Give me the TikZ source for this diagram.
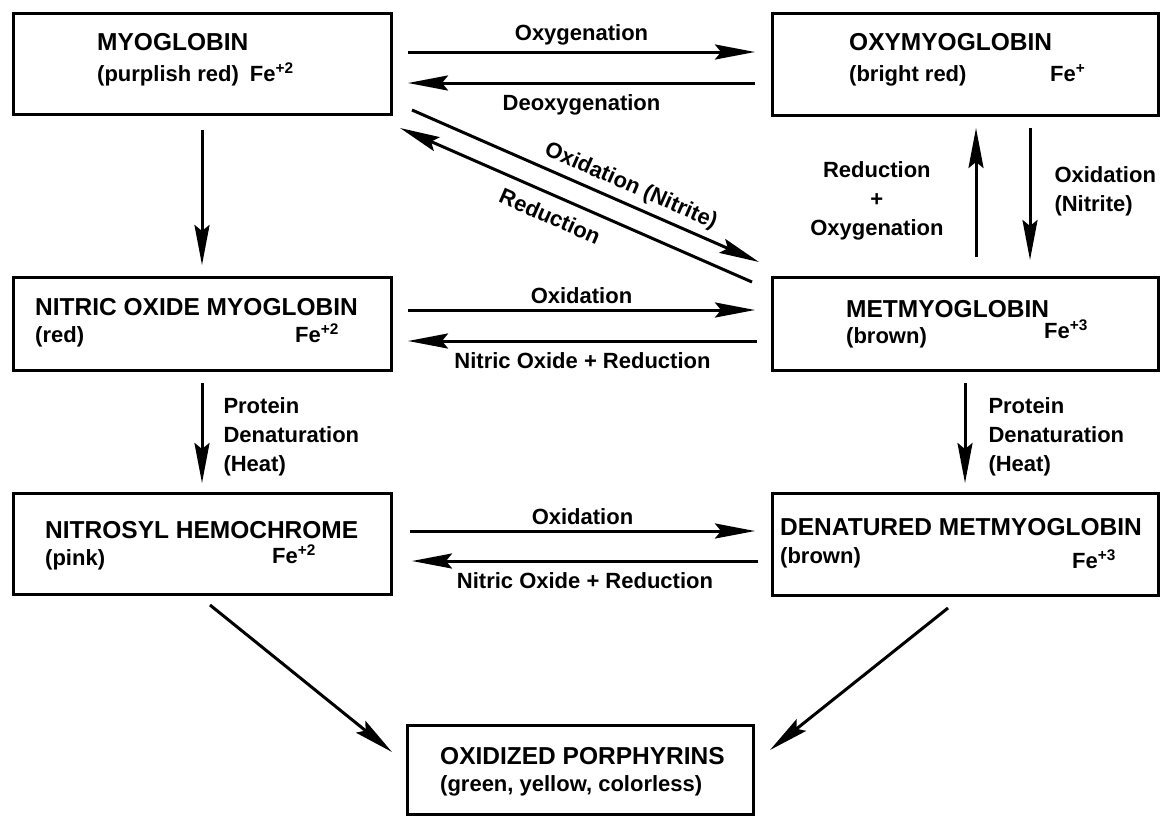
\documentclass[tikz,border=0pt]{standalone}
\usepackage{fontspec}
\setmainfont{Liberation Sans}
\usetikzlibrary{arrows.meta,positioning}

\begin{document}
\begin{tikzpicture}[
    x=1pt, y=-1pt,
    state box/.style={
        draw=black,
        line width=3pt,
        rectangle,
        outer sep=0pt,
        inner sep=0pt
    },
    state title/.style={
        font=\fontsize{24.5}{29}\selectfont\bfseries,
        anchor=base west,
        inner sep=0pt
    },
    state sub/.style={
        font=\fontsize{22}{29}\selectfont\bfseries,
        anchor=base west,
        inner sep=0pt
    },
    step label/.style={
        font=\fontsize{22}{29}\selectfont\bfseries,
        inner sep=2pt
    },
    arrow/.style={-{Stealth[length=40pt,width=15pt,inset=6pt]}, line width=3pt}
]

\useasboundingbox (0,0) rectangle (1161,817);

% Myoglobin
\node[state box, minimum width=378pt, minimum height=101pt] (myo) at (202,63.5) {};
\node[state title] (myo-name) at ([xshift=84pt,yshift=-37pt]myo.north west) {MYOGLOBIN};
\node[state sub] (myo-col) at ([xshift=84pt,yshift=-68pt]myo.north west) {(purplish red)\enspace Fe\textsuperscript{+2}};

% Oxymyoglobin
\node[state box, minimum width=386pt, minimum height=102pt] (oxy) at (965,64) {};
\node[state title] (oxy-name) at ([xshift=77pt,yshift=-37pt]oxy.north west) {OXYMYOGLOBIN};
\node[state sub] (oxy-col) at ([xshift=77pt,yshift=-68pt]oxy.north west) {(bright red)};
\node[state sub] (oxy-fe) at ([xshift=278pt,yshift=-68pt]oxy.north west) {Fe\textsuperscript{+}};

% Nitric oxide myoglobin
\node[state box, minimum width=378pt, minimum height=93pt] (nomb) at (202,323.5) {};
\node[state title] (nomb-name) at ([xshift=22pt,yshift=-38pt]nomb.north west) {NITRIC OXIDE MYOGLOBIN};
\node[state sub] (nomb-col) at ([xshift=22pt,yshift=-65pt]nomb.north west) {(red)};
\node[state sub] (nomb-fe) at ([xshift=282pt,yshift=-65pt]nomb.north west) {Fe\textsuperscript{+2}};

% Metmyoglobin
\node[state box, minimum width=386pt, minimum height=93pt] (met) at (965,323.5) {};
\node[state title] (met-name) at ([xshift=74pt,yshift=-40pt]met.north west) {METMYOGLOBIN};
\node[state sub] (met-col) at ([xshift=74pt,yshift=-66pt]met.north west) {(brown)};
\node[state sub] (met-fe) at ([xshift=272pt,yshift=-61pt]met.north west) {Fe\textsuperscript{+3}};

% Nitrosyl hemochrome
\node[state box, minimum width=378pt, minimum height=101pt] (nhc) at (202,543.5) {};
\node[state title] (nhc-name) at ([xshift=32pt,yshift=-45pt]nhc.north west) {NITROSYL HEMOCHROME};
\node[state sub] (nhc-col) at ([xshift=32pt,yshift=-72pt]nhc.north west) {(pink)};
\node[state sub] (nhc-fe) at ([xshift=259pt,yshift=-70pt]nhc.north west) {Fe\textsuperscript{+2}};

% Denatured metmyoglobin
\node[state box, minimum width=386pt, minimum height=102pt] (dmet) at (965,544) {};
\node[state title] (dmet-name) at ([xshift=8pt,yshift=-42pt]dmet.north west) {DENATURED METMYOGLOBIN};
\node[state sub] (dmet-col) at ([xshift=8pt,yshift=-70pt]dmet.north west) {(brown)};
\node[state sub] (dmet-fe) at ([xshift=300pt,yshift=-75pt]dmet.north west) {Fe\textsuperscript{+3}};

% Oxidized porphyrins
\node[state box, minimum width=346pt, minimum height=89pt] (porph) at (580,770) {};
\node[state title] (porph-name) at ([xshift=33pt,yshift=-39pt]porph.north west) {OXIDIZED PORPHYRINS};
\node[state sub] (porph-col) at ([xshift=33pt,yshift=-66pt]porph.north west) {(green, yellow, colorless)};

% Top row
\draw[arrow] ([xshift=17pt,yshift=11.5pt]myo.east) -- node[step label, above=3pt] (l-oxygen) {Oxygenation} ([xshift=-17pt,yshift=12pt]oxy.west);
\draw[arrow] ([xshift=-17pt,yshift=-19pt]oxy.west) -- node[step label, below=8pt] (l-deoxy) {Deoxygenation} ([xshift=17pt,yshift=-19.5pt]myo.east);

% Diagonal pair
\draw[arrow] ([xshift=21pt,yshift=4pt]myo.south east) -- node[step label, sloped, above=4pt, pos=0.61] (l-nitrite) {Oxidation (Nitrite)} ([xshift=-13pt,yshift=15pt]met.north west);
\draw[arrow] ([xshift=-20pt,yshift=-5pt]met.north west) -- node[step label, sloped, below=9pt, pos=0.55] (l-reduct) {Reduction} ([xshift=9pt,yshift=-14pt]myo.south east);

% Oxymyoglobin <-> metmyoglobin
\draw[arrow] ([xshift=11pt,yshift=20pt]met.north) -- node[step label, left=29pt, yshift=-8pt, align=center] (l-reox) {Reduction\\+\\Oxygenation} ([xshift=11pt,yshift=-13pt]oxy.south);
\draw[arrow] ([xshift=65pt,yshift=-13pt]oxy.south) -- node[step label, right=21pt, yshift=3pt, align=left] (l-oxnit) {Oxidation\\(Nitrite)} ([xshift=65pt,yshift=17pt]met.north);

% Left column down
\draw[arrow] ([yshift=-16pt]myo.south) -- ([yshift=12pt]nomb.north);

% Middle row
\draw[arrow] ([xshift=17pt,yshift=13.5pt]nomb.east) -- node[step label, above=3pt] (l-ox2) {Oxidation} ([xshift=-17pt,yshift=13.5pt]met.west);
\draw[arrow] ([xshift=-15pt,yshift=-17.5pt]met.west) -- node[step label, below=8pt] (l-nored2) {Nitric Oxide + Reduction} ([xshift=17pt,yshift=-17.5pt]nomb.east);

% Denaturation
\draw[arrow] ([yshift=-13pt]nomb.south) -- node[step label, right=18pt, yshift=-4pt, align=left] (l-den1) {Protein\\Denaturation\\(Heat)} ([yshift=10pt]nhc.north);
\draw[arrow] ([yshift=-13pt]met.south) -- node[step label, right=20pt, yshift=-4pt, align=left] (l-den2) {Protein\\Denaturation\\(Heat)} ([yshift=10pt]dmet.north);

% Bottom row
\draw[arrow] ([xshift=19pt,yshift=12.5pt]nhc.east) -- node[step label, above=3pt] (l-ox3) {Oxidation} ([xshift=-17pt,yshift=13pt]dmet.west);
\draw[arrow] ([xshift=-14pt,yshift=-17pt]dmet.west) -- node[step label, below=8pt] (l-nored3) {Nitric Oxide + Reduction} ([xshift=21pt,yshift=-17.5pt]nhc.east);

% To porphyrins
\draw[arrow] ([xshift=8pt,yshift=-11pt]nhc.south) -- ([xshift=-15pt,yshift=18pt]porph.west);
\draw[arrow] ([xshift=-17pt,yshift=-13pt]dmet.south) -- ([xshift=17pt,yshift=20pt]porph.east);

\end{tikzpicture}
\end{document}
